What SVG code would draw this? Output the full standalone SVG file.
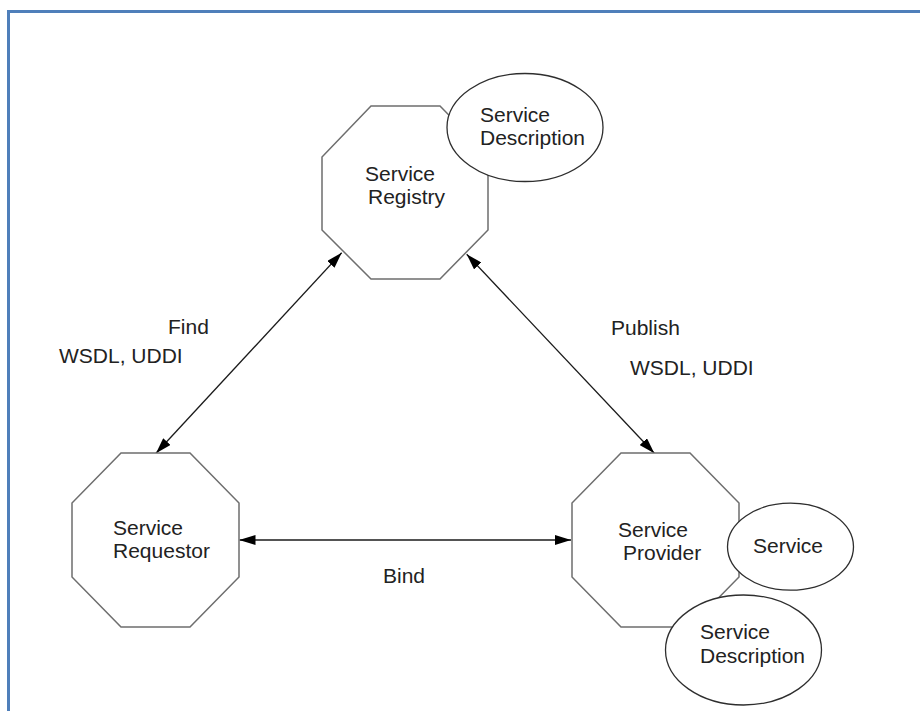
<svg xmlns="http://www.w3.org/2000/svg" width="920" height="711" viewBox="0 0 920 711">
  <style>
    .oct { fill: #ffffff; stroke: #6e6e6e; stroke-width: 1.5; }
    .ell { fill: #ffffff; stroke: #2e2e2e; stroke-width: 1.3; }
    .lbl { font-family: "Liberation Sans", Arial, sans-serif; font-size: 21px; fill: #222222; }
    .conn { stroke: #1a1a1a; stroke-width: 1.3; fill: none; marker-start: url(#arr); marker-end: url(#arr); }
  </style>
  <defs>
    <marker id="arr" viewBox="0 0 16 10" refX="16" refY="5" markerWidth="16" markerHeight="10" markerUnits="userSpaceOnUse" orient="auto-start-reverse">
      <path d="M0,0 L16,5 L0,10 Z" fill="#000000"/>
    </marker>
  </defs>
  <rect x="0" y="0" width="920" height="711" fill="#ffffff"/>
  <g id="frame" fill="none" stroke="#4f7fba" stroke-width="3">
    <path d="M8.5,711 L8.5,11.5 L920,11.5"/>
  </g>
  <g id="connectors">
    <line class="conn" x1="341.7" y1="252.7" x2="156" y2="453.3"/>
    <line class="conn" x1="466.7" y1="254.3" x2="654.3" y2="453.3"/>
    <line class="conn" x1="239.5" y1="540" x2="571" y2="540"/>
  </g>
  <g id="service-registry">
    <polygon class="oct" points="371,106 440,106 488,155 488,230 440,279 371,279 322,230 322,157"/>
    <text class="lbl" x="365" y="181">Service</text>
    <text class="lbl" x="368" y="204">Registry</text>
  </g>
  <g id="registry-description">
    <ellipse class="ell" cx="525" cy="127.5" rx="78" ry="54"/>
    <text class="lbl" x="480" y="122">Service</text>
    <text class="lbl" x="480" y="145">Description</text>
  </g>
  <g id="service-requestor">
    <polygon class="oct" points="121,453 190,453 239,503 239,577 190,627 121,627 72,577 72,503"/>
    <text class="lbl" x="113" y="535">Service</text>
    <text class="lbl" x="113" y="558">Requestor</text>
  </g>
  <g id="service-provider">
    <polygon class="oct" points="621,453 690,453 739,503 739,577 690,627 621,627 572,577 572,503"/>
    <text class="lbl" x="618" y="537">Service</text>
    <text class="lbl" x="623" y="560">Provider</text>
  </g>
  <g id="provider-service">
    <ellipse class="ell" cx="790.5" cy="546.7" rx="63" ry="43.5"/>
    <text class="lbl" x="753" y="553">Service</text>
  </g>
  <g id="provider-description">
    <ellipse class="ell" cx="743.5" cy="650" rx="78" ry="55"/>
    <text class="lbl" x="700" y="639">Service</text>
    <text class="lbl" x="700" y="663">Description</text>
  </g>
  <g id="labels">
    <text class="lbl" x="168" y="334">Find</text>
    <text class="lbl" x="59" y="363">WSDL, UDDI</text>
    <text class="lbl" x="611" y="335">Publish</text>
    <text class="lbl" x="630" y="375">WSDL, UDDI</text>
    <text class="lbl" x="383" y="583">Bind</text>
  </g>
</svg>
